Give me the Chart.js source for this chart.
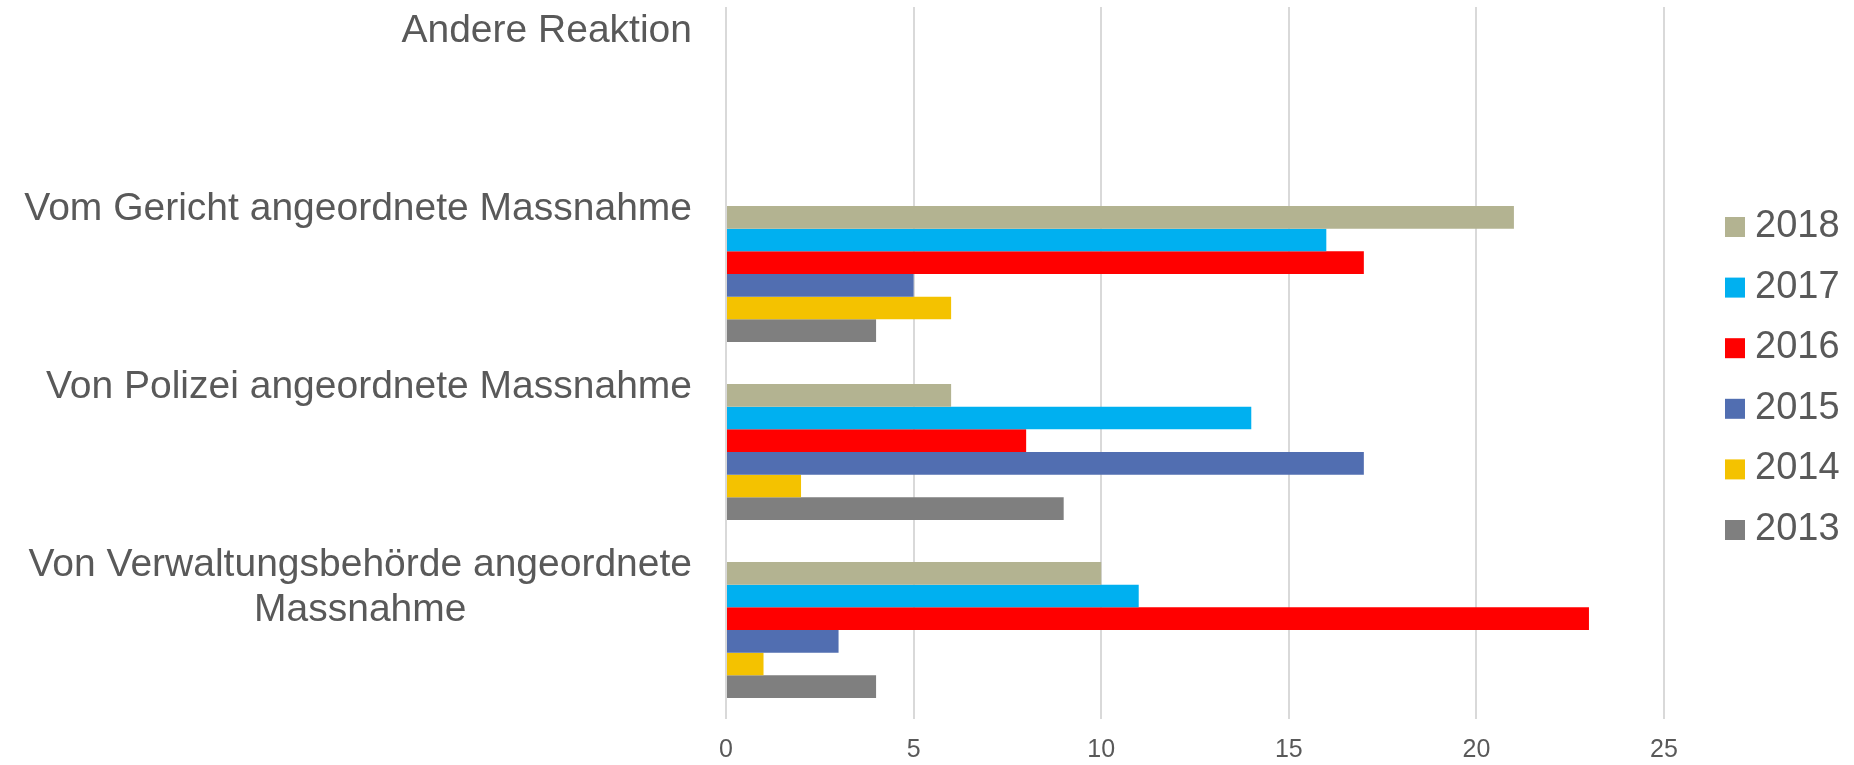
<!DOCTYPE html>
<html>
<head>
<meta charset="utf-8">
<script src="https://cdn.jsdelivr.net/npm/chart.js@4/dist/chart.umd.min.js"></script>
<style>
  html, body { margin: 0; padding: 0; background: #fff; }
  #wrap { width: 1854px; height: 765px; position: relative; }
</style>
</head>
<body>
<div id="wrap"><canvas id="chart"></canvas></div>
<script>
// categories top to bottom
const categories = [
  'Andere Reaktion',
  'Vom Gericht angeordnete Massnahme',
  'Von Polizei angeordnete Massnahme',
  ['Von Verwaltungsbehörde angeordnete', 'Massnahme']
];
const years = ['2018', '2017', '2016', '2015', '2014', '2013'];
const colors = ['#B3B391', '#00B0F0', '#FF0000', '#516EB1', '#F4C200', '#7F7F7F'];

const values2018 = [0, 21, 6, 10];
const values2017 = [0, 16, 14, 11];
const values2016 = [0, 17, 8, 23];
const values2015 = [0, 5, 17, 3];
const values2014 = [0, 6, 2, 1];
const values2013 = [0, 4, 9, 4];
const seriesValues = [values2018, values2017, values2016, values2015, values2014, values2013];

const xMax = 25;
const xStep = 5;

const textColor = '#595959';
const fontFamily = '"Liberation Sans", Arial, sans-serif';

// category labels sit at the top of each bar group, like the original
const categoryLabels = {
  id: 'categoryLabels',
  afterDraw(chart) {
    const { ctx, scales: { y } } = chart;
    ctx.save();
    ctx.font = '39px ' + fontFamily;
    ctx.fillStyle = textColor;
    ctx.textBaseline = 'alphabetic';
    ctx.textAlign = 'center';
    const right = 692;
    categories.forEach((cat, i) => {
      const lines = Array.isArray(cat) ? cat : [cat];
      const maxW = Math.max(...lines.map(l => ctx.measureText(l).width));
      const base = y.getPixelForTick(i) - 54;
      lines.forEach((line, j) => {
        ctx.fillText(line, right - maxW / 2, base + j * 45);
      });
    });
    ctx.restore();
  }
};

const sideLegend = {
  id: 'sideLegend',
  afterDraw(chart) {
    const { ctx } = chart;
    ctx.save();
    ctx.font = '38px ' + fontFamily;
    ctx.textBaseline = 'alphabetic';
    ctx.textAlign = 'left';
    chart.data.datasets.forEach((ds, i) => {
      const cy = 227 + i * 60.6;
      ctx.fillStyle = ds.backgroundColor;
      ctx.fillRect(1725, cy - 10, 20, 20);
      ctx.fillStyle = textColor;
      ctx.fillText(ds.label, 1755, cy + 10);
    });
    ctx.restore();
  }
};

const datasets = years.map((year, i) => ({
  label: year,
  data: seriesValues[i],
  backgroundColor: colors[i],
  borderWidth: 0,
  barPercentage: 1,
  categoryPercentage: 0.764
}));

new Chart(document.getElementById('chart'), {
  type: 'bar',
  data: {
    labels: categories,
    datasets
  },
  options: {
    indexAxis: 'y',
    responsive: true,
    maintainAspectRatio: false,
    animation: false,
    layout: {
      padding: { left: 726, right: 190, top: 7, bottom: 0 }
    },
    plugins: {
      legend: { display: false },
      tooltip: { enabled: false }
    },
    scales: {
      x: {
        min: 0,
        max: xMax,
        ticks: {
          stepSize: xStep,
          color: textColor,
          font: { family: fontFamily, size: 25 },
          padding: 16
        },
        grid: {
          color: '#D9D9D9',
          lineWidth: 2,
          drawTicks: false
        },
        border: { display: false },
        afterFit(scale) {
          scale.height = 46;
        }
      },
      y: {
        display: false
      }
    }
  },
  plugins: [categoryLabels, sideLegend]
});
</script>
</body>
</html>
